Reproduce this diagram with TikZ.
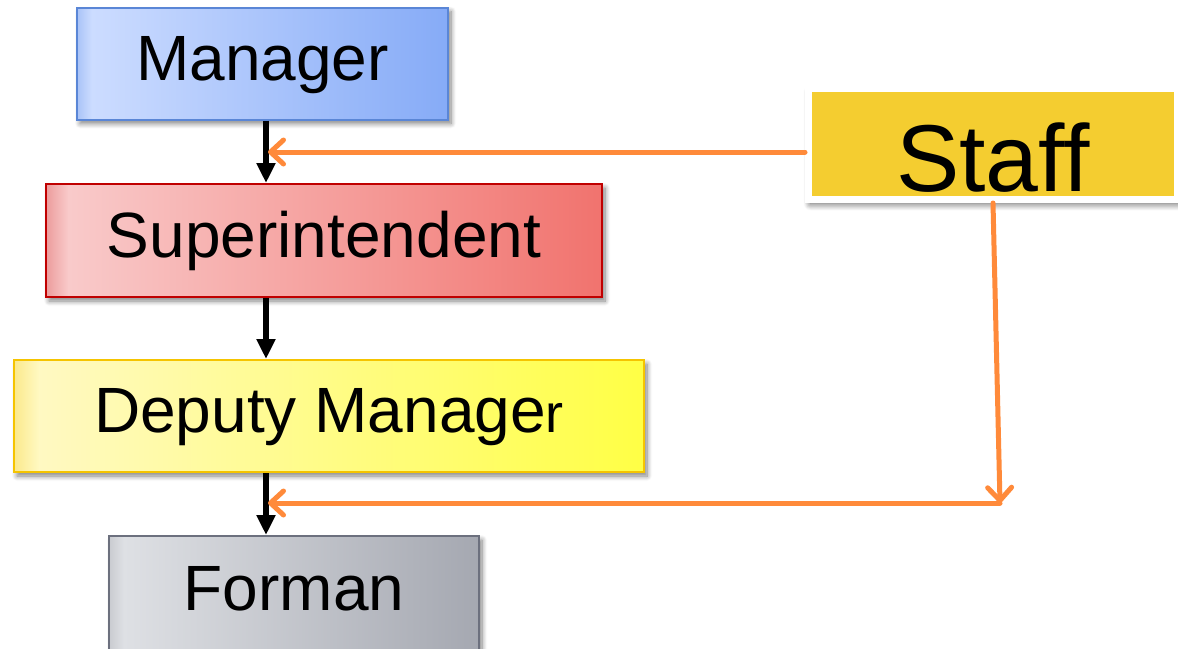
\documentclass[tikz,border=0pt]{standalone}
\usepackage{fontspec}
\usepackage{graphicx}
\setmainfont{Liberation Sans}
\usetikzlibrary{arrows.meta,shadows.blur}

% box colours: edge strip, light side, dark side, border
\definecolor{mgrE}{HTML}{A9C3F7}
\definecolor{mgrL}{HTML}{CCDCFF}
\definecolor{mgrR}{HTML}{86ABF7}
\definecolor{mgrB}{HTML}{5A86D6}
\definecolor{supE}{HTML}{EC9C9C}
\definecolor{supL}{HTML}{F9CACA}
\definecolor{supR}{HTML}{F1736E}
\definecolor{supB}{HTML}{C00000}
\definecolor{depE}{HTML}{FBE98C}
\definecolor{depL}{HTML}{FFF9C2}
\definecolor{depR}{HTML}{FFFF45}
\definecolor{depB}{HTML}{F5C400}
\definecolor{forE}{HTML}{C9CBD0}
\definecolor{forL}{HTML}{DEE0E4}
\definecolor{forR}{HTML}{A5A8B1}
\definecolor{forB}{HTML}{6C707E}
\definecolor{staffY}{HTML}{F4CD30}
\definecolor{linkO}{HTML}{FF8A3A}

\pgfdeclarehorizontalshading{mgrshade}{100bp}{color(0bp)=(mgrE); color(25bp)=(mgrE); color(27bp)=(mgrL); color(75bp)=(mgrR); color(100bp)=(mgrR)}
\pgfdeclarehorizontalshading{supshade}{100bp}{color(0bp)=(supE); color(25bp)=(supE); color(27bp)=(supL); color(75bp)=(supR); color(100bp)=(supR)}
\pgfdeclarehorizontalshading{depshade}{100bp}{color(0bp)=(depE); color(25bp)=(depE); color(27bp)=(depL); color(75bp)=(depR); color(100bp)=(depR)}
\pgfdeclarehorizontalshading{forshade}{100bp}{color(0bp)=(forE); color(25bp)=(forE); color(27bp)=(forL); color(75bp)=(forR); color(100bp)=(forR)}

\begin{document}
\begin{tikzpicture}[x=1pt,y=-1pt,
  rankbox/.style={rectangle, inner sep=0pt, line width=2pt,
    font=\fontsize{64}{72}\selectfont, text height=46pt, text depth=13pt,
    blur shadow={shadow xshift=3pt, shadow yshift=-4pt, shadow blur steps=8,
                 shadow blur radius=5pt, shadow opacity=50}},
  chain/.style={line width=6pt, black, -{Triangle[length=20pt,width=18pt]}},
  staffline/.style={line width=5pt, linkO, line cap=round,
    -{Straight Barb[length=13pt,width=24pt,round]}}]
\useasboundingbox (0,0) rectangle (1178,648);
\clip (0,0) rectangle (1178,648);

% chain of command
\node[rankbox, shading=mgrshade, draw=mgrB, minimum width=371pt, minimum height=112pt] (mgr) at (262.5,63.5) {Manager};
\node[rankbox, shading=supshade, draw=supB, minimum width=556pt, minimum height=113pt] (sup) at (324,240.5) {Superintendent};
\node[rankbox, shading=depshade, draw=depB, minimum width=630pt, minimum height=112pt] (dep) at (329,416) {Deputy Manage{\fontsize{54}{60}\selectfont r}};
\node[rankbox, shading=forshade, draw=forB, minimum width=370pt, minimum height=116pt] (for) at (294,594) {Forman};

% staff box with white frame
\node[rectangle, fill=staffY, draw=white, line width=7pt, inner sep=0pt,
      minimum width=369pt, minimum height=111pt,
      font=\fontsize{95}{100}\selectfont,
      blur shadow={shadow xshift=2pt, shadow yshift=-4pt, shadow blur steps=10,
                   shadow blur radius=7pt, shadow opacity=70}]
  (staff) at (993,144) {\raisebox{-13pt}[\height][0pt]{Staff}};

\coordinate (xa) at (266,0);
\coordinate (j1) at (268,152);
\coordinate (j2) at (268,503);
\coordinate (k) at (1000,503);

\draw[chain] (mgr.south -| xa) -- (sup.north -| xa);
\draw[chain] (sup.south -| xa) -- (dep.north -| xa);
\draw[chain] (dep.south -| xa) -- (for.north -| xa);

\draw[staffline] (staff.west |- j1) -- (j1);
\draw[staffline] (staff.south) -- (k);
\draw[staffline] (k) -- (j2);
\end{tikzpicture}
\end{document}
